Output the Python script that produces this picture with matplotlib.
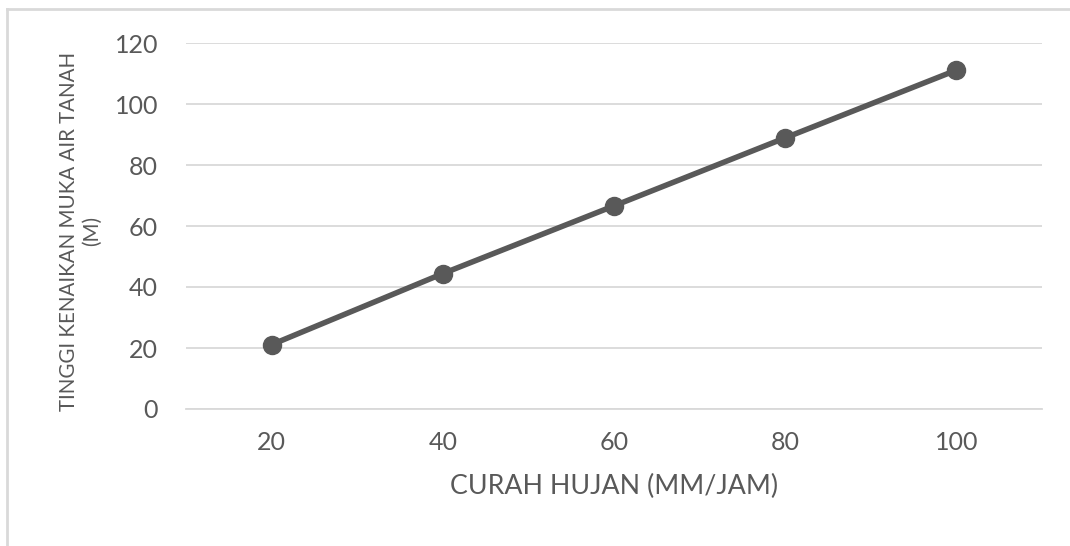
import matplotlib.pyplot as plt
from matplotlib.lines import Line2D

# Data
curah_hujan = ['20', '40', '60', '80', '100']
tinggi_air = [21.1, 44.4, 66.6, 88.9, 111.1]
y_ticks = [0, 20, 40, 60, 80, 100, 120]

grey = '#595959'
plt.rcParams['font.family'] = ['Lato', 'DejaVu Sans']

W, H = 1070, 546
fig = plt.figure(figsize=(W / 100, H / 100), dpi=100)
ax = fig.add_axes([186 / W, 1 - 409 / H, (1042 - 186) / W, (409 - 43) / H])

x = range(len(curah_hujan))
ax.plot(x, tinggi_air, color=grey, lw=4, marker='o', ms=13, solid_capstyle='round')

ax.set_xlim(-0.5, len(curah_hujan) - 0.5)
ax.set_ylim(0, 120)
ax.set_xticks(list(x))
ax.set_xticklabels(curah_hujan)
ax.set_yticks(y_ticks)
ax.grid(axis='y', color='#d9d9d9', lw=1.3)
ax.set_axisbelow(True)
for s in ax.spines.values():
    s.set_visible(False)
ax.spines['bottom'].set_visible(True)
ax.spines['bottom'].set_color('#d9d9d9')
ax.spines['bottom'].set_linewidth(1.3)
ax.tick_params(length=0, labelsize=18, labelcolor=grey)
ax.tick_params(axis='x', pad=16)
ax.tick_params(axis='y', pad=20)

ax.set_xlabel('CURAH HUJAN (MM/JAM)', fontsize=19.3, color=grey, labelpad=14)
ax.set_ylabel('TINGGI KENAIKAN MUKA AIR TANAH\n(M)', fontsize=14.8, color=grey,
              linespacing=1.2)
ax.yaxis.set_label_coords(-0.098, 0.486)

# Chart area border (left and top visible)
fig.add_artist(Line2D([7 / W, 7 / W], [0, 1 - 9 / H], color='#d9d9d9', lw=2))
fig.add_artist(Line2D([7 / W, 1], [1 - 9 / H, 1 - 9 / H], color='#d9d9d9', lw=2))

fig.savefig('out.png', dpi=100, facecolor='white')
